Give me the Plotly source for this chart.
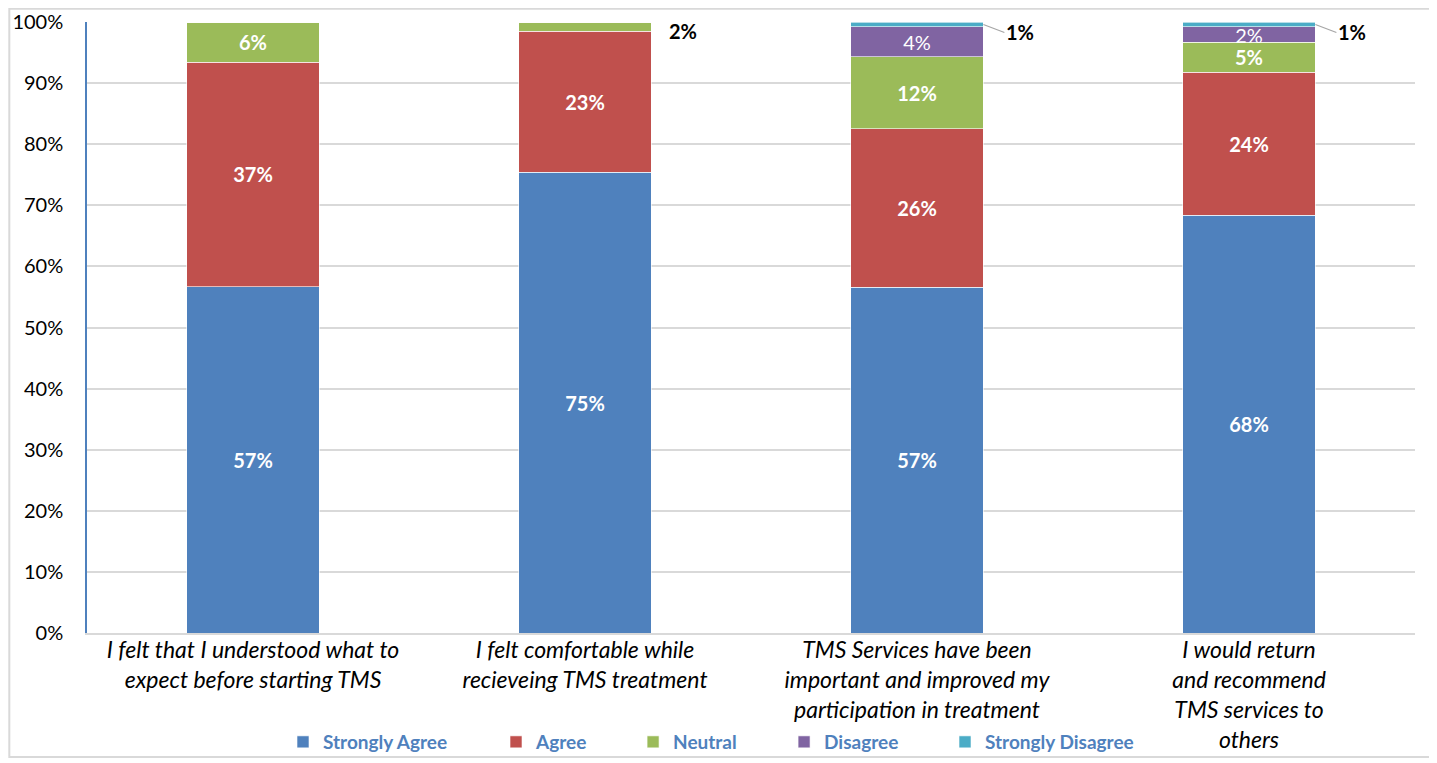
import plotly.graph_objects as go

categories = [
    "I felt that I understood what to<br>expect before starting TMS",
    "I felt comfortable while<br>recieveing TMS treatment",
    "TMS Services have been<br>important and improved my<br>participation in treatment",
    "I would return<br>and recommend<br>TMS services to<br>others",
]
series_names = ["Strongly Agree", "Agree", "Neutral", "Disagree", "Strongly Disagree"]
strongly_agree = [56.7, 75.4, 56.6, 68.4]
agree = [36.7, 23.1, 25.9, 23.4]
neutral = [6.6, 1.5, 11.8, 4.9]
disagree = [0.0, 0.0, 4.9, 2.5]
strongly_disagree = [0.0, 0.0, 0.8, 0.8]
label_sa = ["57%", "75%", "57%", "68%"]
label_agree = ["37%", "23%", "26%", "24%"]
label_neutral = ["6%", "", "12%", "5%"]
label_disagree = ["", "", "4%", "2%"]
label_sd = ["", "", "1%", "1%"]
outside_neutral = ["", "2%", "", ""]
y_ticks = [0, 10, 20, 30, 40, 50, 60, 70, 80, 90, 100]
y_tick_labels = [f"{v}%" for v in y_ticks]

colors = ["#4F81BD", "#C0504D", "#9BBB59", "#8064A2", "#4BACC6"]
legend_x = [0.1476, 0.3080, 0.4112, 0.5249, 0.6461]
FONT = "Lato"
BAR_W = 0.4

x = list(range(len(categories)))
values = [strongly_agree, agree, neutral, disagree, strongly_disagree]
labels = [label_sa, label_agree, label_neutral, label_disagree, ["", "", "", ""]]
bold = [True, True, True, False, True]

fig = go.Figure()
legend_layouts = {}
for k, (name, vals, labs, col, b) in enumerate(zip(series_names, values, labels, colors, bold)):
    txt = [(f"<b>{t}</b>" if (b and t) else t) for t in labs]
    lname = "legend" if k == 0 else f"legend{k + 1}"
    fig.add_trace(go.Bar(
        x=x, y=vals, name=name, width=BAR_W,
        marker=dict(color=col, line=dict(color="white", width=0.6)),
        text=txt, textposition="inside", insidetextanchor="middle",
        textangle=0,
        textfont=dict(color="white", size=20, family=FONT),
        hoverinfo="skip", legend=lname,
    ))
    legend_layouts[lname] = dict(
        orientation="h", x=legend_x[k], xanchor="left", y=-0.1784, yanchor="middle",
        font=dict(size=19, color="#4F81BD", family=FONT, weight="bold"),
        itemwidth=30, bgcolor="rgba(0,0,0,0)",
    )

annotations = []
for i, t in enumerate(label_sd):
    if t:
        top = sum(v[i] for v in values)
        annotations.append(dict(
            x=i + BAR_W / 2, y=top - strongly_disagree[i] / 2, xref="x", yref="y",
            text=f"<b>{t}</b>", showarrow=True, arrowhead=0, arrowwidth=1.2,
            arrowcolor="#A6A6A6", ax=21, ay=8, xanchor="left",
            font=dict(size=20, color="black", family=FONT),
        ))
for i, t in enumerate(outside_neutral):
    if t:
        y0 = strongly_agree[i] + agree[i] + neutral[i] / 2
        annotations.append(dict(
            x=i + BAR_W / 2, y=y0, xref="x", yref="y",
            text=f"<b>{t}</b>", showarrow=False, xanchor="left", yanchor="top",
            xshift=16, yshift=10,
            font=dict(size=20, color="black", family=FONT),
        ))

fig.update_layout(
    width=1437, height=763,
    barmode="stack",
    bargap=0.6,
    plot_bgcolor="white", paper_bgcolor="white",
    margin=dict(l=79, r=30, t=14, b=138, autoexpand=False),
    font=dict(family=FONT, size=19, color="black"),
    uniformtext=dict(minsize=20, mode="show"),
    showlegend=True,
    annotations=annotations,
    shapes=[dict(type="rect", xref="paper", yref="paper",
                 x0=-0.0585, x1=1.0113, y0=-0.2029, y1=1.0215,
                 line=dict(color="#D9D9D9", width=2), fillcolor="rgba(0,0,0,0)",
                 layer="below")],
    **legend_layouts,
)
fig.update_xaxes(
    tickmode="array", tickvals=x, ticktext=categories,
    range=[-0.5, len(categories) - 0.5],
    tickfont=dict(size=23, family=FONT, style="italic"),
    showline=True, linecolor="#D9D9D9", linewidth=1.5,
    showgrid=False, ticks="", fixedrange=True, automargin=False,
    ticklabelstandoff=-4,
)
fig.update_yaxes(
    range=[0, 100], tickmode="array", tickvals=y_ticks, ticktext=y_tick_labels,
    tickfont=dict(size=20, family=FONT),
    showgrid=True, gridcolor="#D9D9D9", gridwidth=1.5,
    showline=True, linecolor="#4F81BD", linewidth=1.5,
    ticks="", ticklabelstandoff=18, zeroline=False, automargin=False,
)
fig.write_html("out.html")
